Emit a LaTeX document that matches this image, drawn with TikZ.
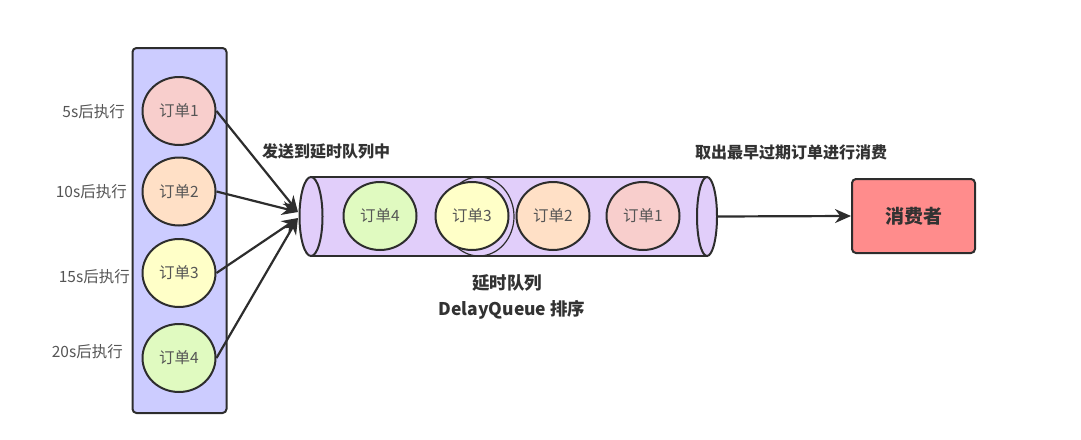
\documentclass[tikz,border=0pt]{standalone}
\usepackage{fontspec}
\setmainfont{Noto Sans CJK SC}
\usetikzlibrary{shapes.geometric,arrows.meta}
\definecolor{linec}{RGB}{45,45,45}
\definecolor{labelc}{RGB}{85,85,85}
\definecolor{boldc}{RGB}{50,50,50}
\definecolor{rectfill}{RGB}{204,204,255}
\definecolor{cylfill}{RGB}{225,206,250}
\definecolor{ofill1}{RGB}{248,206,204}
\definecolor{ofill2}{RGB}{255,224,198}
\definecolor{ofill3}{RGB}{255,255,200}
\definecolor{ofill4}{RGB}{224,250,192}
\definecolor{consfill}{RGB}{255,140,140}
\begin{document}
\begin{tikzpicture}[x=1pt,y=-1pt,
  order/.style={ellipse,draw=linec,line width=2pt,minimum width=73pt,minimum height=68pt,inner sep=0pt,
    text=labelc,font=\fontsize{15.5}{18}\selectfont},
  tlabel/.style={text=labelc,font=\fontsize{15.5}{18}\selectfont,anchor=east,inner sep=0pt},
  blabel/.style={text=boldc,font=\bfseries\fontsize{16}{19}\selectfont,inner sep=0pt},
  conn/.style={draw=linec,line width=2.2pt,-{Stealth[length=16pt,width=14pt]}}]
\useasboundingbox (0,0) rectangle (1081,439);
% left container
\node[draw=linec,line width=2pt,fill=rectfill,rounded corners=4pt,minimum width=94pt,minimum height=365pt,inner sep=0pt] (box) at (179.5,230.5) {};
\node[order,fill=ofill1] (o1) at (179,111) {订单1};
\node[order,fill=ofill2] (o2) at (179,191.5) {订单2};
\node[order,fill=ofill3] (o3) at (179,273) {订单3};
\node[order,fill=ofill4] (o4) at (179,358) {订单4};
\node[tlabel] (l1) at (125,112) {5s后执行};
\node[tlabel] (l2) at (127,192) {10s后执行};
\node[tlabel] (l3) at (130,277) {15s后执行};
\node[tlabel] (l4) at (123,352) {20s后执行};
% cylinder
\fill[cylfill] (311,177) rectangle (707,256);
\begin{scope}
\clip (311,177) rectangle (707,256);
\draw[linec,line width=1.2pt] (479,216.5) ellipse (35pt and 39.5pt);
\end{scope}
\draw[linec,line width=2pt] (311,177) -- (707,177) (311,256) -- (707,256);
\draw[linec,line width=2pt,fill=cylfill] (311,216.5) ellipse (11.5pt and 39.5pt);
\draw[linec,line width=2pt,fill=cylfill] (707,216.5) ellipse (10pt and 39.5pt);
\coordinate (qin1) at (298,212);
\coordinate (qin2) at (298,218);
\coordinate (qout) at (717,216.5);
\node[order,fill=ofill4] (q4) at (380,216) {订单4};
\node[order,fill=ofill3] (q3) at (472,216) {订单3};
\node[order,fill=ofill2] (q2) at (553,216) {订单2};
\node[order,fill=ofill1] (q1) at (643,216) {订单1};
% consumer
\node[draw=linec,line width=2pt,fill=consfill,rounded corners=4pt,minimum width=123pt,minimum height=74pt,inner sep=0pt,
  text=boldc,font=\bfseries\fontsize{19}{22}\selectfont] (cons) at (913.5,216) {消费者};
% connectors
\draw[conn] (o1.east) -- (qin1);
\draw[conn] (o2.east) -- (qin1);
\draw[conn] (o3.east) -- (qin2);
\draw[conn] (o4.east) -- (qin2);
\draw[conn] (qout) -- (cons.west);
% labels
\node[blabel] (t1) at (326,151) {发送到延时队列中};
\node[blabel] (t2) at (791,152) {取出最早过期订单进行消费};
\node[blabel,font=\bfseries\fontsize{17.5}{20}\selectfont] (t3) at (507,283) {延时队列};
\node[blabel,font=\bfseries\fontsize{17.5}{20}\selectfont] (t4) at (512,310) {DelayQueue 排序};
\end{tikzpicture}
\end{document}
